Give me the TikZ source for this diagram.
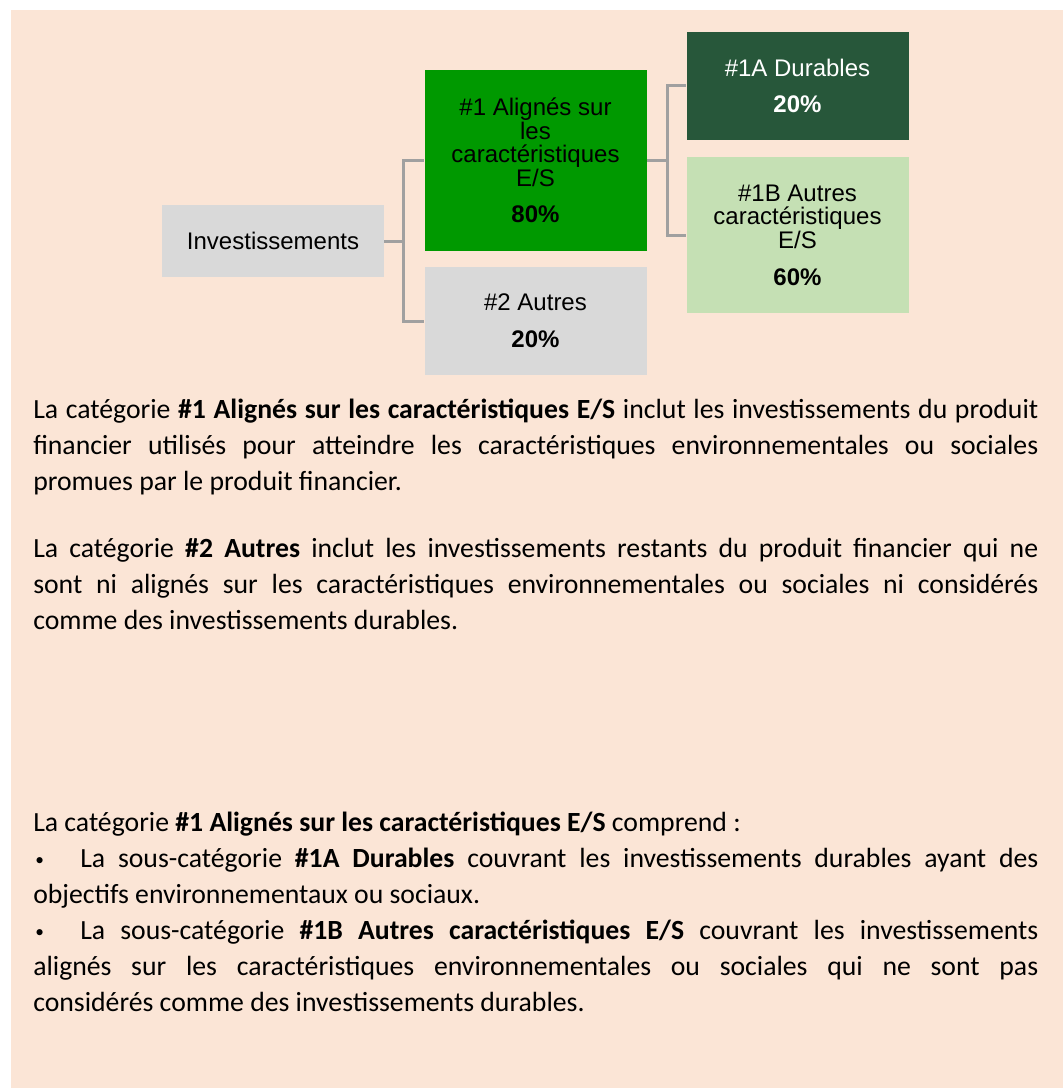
\documentclass[tikz,border=0pt]{standalone}
\usepackage{fontspec}
\setmainfont{Carlito}
\newfontfamily\boxfont{Liberation Sans}
\hyphenpenalty=10000
\exhyphenpenalty=10000
\tolerance=9999

\newcommand{\smallbullet}{\raisebox{1.5pt}{\fontsize{13}{13}\selectfont\textbullet}}

\tikzset{
  boxnode/.style={rectangle, inner sep=0pt, minimum width=166.5pt, align=center,
    font=\boxfont\fontsize{18}{17.6}\selectfont},
  conn/.style={draw={rgb, 255:red, 160; green, 160; blue, 160}, line width=2.25pt},
  para/.style={anchor=base west, inner sep=0pt, text width=753.75pt, align=justify,
    font=\fontsize{20.8}{27}\selectfont},
}

\begin{document}
\begin{tikzpicture}[x=0.75pt,y=0.75pt,yscale=-1,xscale=1]
\path (0,0) rectangle (1063,1088); %set diagram size

%Shape: Rectangle (background)
\fill [color={rgb, 255:red, 251; green, 229; blue, 214 }] (11,10) rectangle (1063,1088) ;

%Shape: Rectangle
\node (invest) [boxnode, fill={rgb, 255:red, 217; green, 217; blue, 217 }, minimum height=54pt] at (273,241) {Investissements};
%Shape: Rectangle
\node (es) [boxnode, fill={rgb, 255:red, 0; green, 153; blue, 0 }, minimum height=135.75pt] at (535.5,160.5) {\#1 Alignés sur\\les\\caractéristiques\\E/S\\[10pt]\bfseries 80\%};
%Shape: Rectangle
\node (autres) [boxnode, fill={rgb, 255:red, 217; green, 217; blue, 217 }, minimum height=81pt] at (535.5,321) {\#2 Autres\\[10pt]\bfseries 20\%};
%Shape: Rectangle
\node (durables) [boxnode, fill={rgb, 255:red, 39; green, 87; blue, 58 }, text=white, minimum height=81pt] at (797.5,86) {\#1A Durables\\[10pt]\bfseries 20\%};
%Shape: Rectangle
\node (autresES) [boxnode, fill={rgb, 255:red, 197; green, 224; blue, 180 }, minimum height=117pt] at (797.5,235) {\#1B Autres\\caractéristiques\\E/S\\[10pt]\bfseries 60\%};

%Straight Lines
\draw [conn] (invest.east) -- ++(19.5,0) |- (es.west) ;
\draw [conn] (invest.east) -- ++(19.5,0) |- (autres.west) ;
%Straight Lines
\draw [conn] (es.east) -- ++(20.5,0) |- (durables.west) ;
\draw [conn] (es.east) -- ++(20.5,0) |- (autresES.west) ;

% Text Node
\node (para1) [para] at (33,418) {La catégorie \textbf{\#1 Alignés sur les caractéristiques E/S} inclut les investissements du produit\linebreak financier utilisés pour atteindre les caractéristiques environnementales ou sociales\linebreak promues par le produit financier.};
% Text Node
\node (para2) [para] at (33,557) {La catégorie \textbf{\#2 Autres} inclut les investissements restants du produit financier qui ne\linebreak sont ni alignés sur les caractéristiques environnementales ou sociales ni considérés\linebreak comme des investissements durables.};
% Text Node
\node (para3) [para] at (33,831) {La catégorie \textbf{\#1 Alignés sur les caractéristiques E/S} comprend :\\
\makebox[35.25pt][l]{\hspace{1.5pt}\smallbullet}La sous-catégorie \textbf{\#1A Durables} couvrant les investissements durables ayant des\linebreak objectifs environnementaux ou sociaux.\\
\makebox[35.25pt][l]{\hspace{1.5pt}\smallbullet}La sous-catégorie \textbf{\#1B Autres caractéristiques E/S} couvrant les investissements\linebreak alignés sur les caractéristiques environnementales ou sociales qui ne sont pas\linebreak considérés comme des investissements durables.};

\end{tikzpicture}
\end{document}
